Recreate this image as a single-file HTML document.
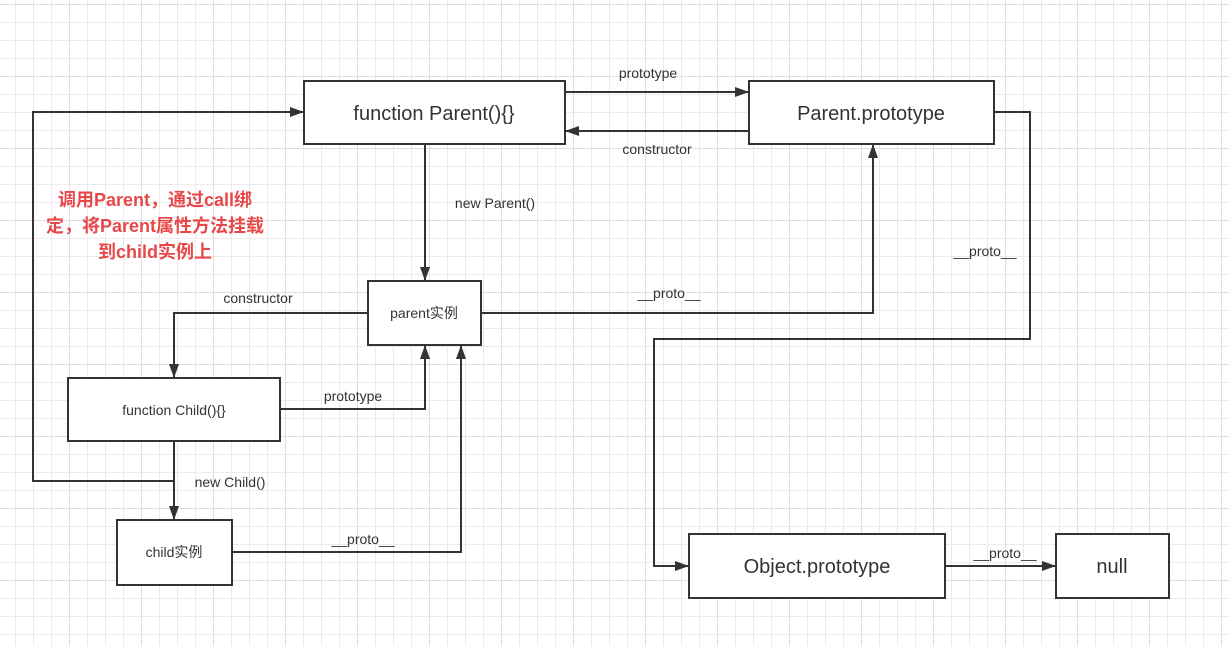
<!DOCTYPE html>
<html><head><meta charset="utf-8"><style>
html,body{margin:0;padding:0;background:#fff}
svg{display:block}
text{font-family:"Liberation Sans","Noto Sans CJK SC",sans-serif;fill:#333}
</style></head><body>
<svg width="1229" height="646" viewBox="0 0 1229 646" xmlns="http://www.w3.org/2000/svg">
<defs>
<pattern id="g" x="-3" y="4" width="18" height="18" patternUnits="userSpaceOnUse">
<path d="M0 0.5H18M0.5 0V18" stroke="#ebebeb" stroke-width="1" fill="none"/>
</pattern>
<pattern id="G" x="-3" y="4" width="72" height="72" patternUnits="userSpaceOnUse">
<path d="M0 0.5H72M0.5 0V72" stroke="#dedede" stroke-width="1" fill="none"/>
</pattern>
<marker id="a" markerWidth="14" markerHeight="10" refX="14" refY="5" orient="auto" markerUnits="userSpaceOnUse">
<path d="M0 0L14 5L0 10Z" fill="#333"/>
</marker>
</defs>
<rect width="1229" height="646" fill="url(#g)"/>
<rect width="1229" height="646" fill="url(#G)"/>
<g fill="#fff" stroke="#333" stroke-width="2">
<rect x="304" y="81" width="261" height="63"/>
<rect x="749" y="81" width="245" height="63"/>
<rect x="368" y="281" width="113" height="64"/>
<rect x="68" y="378" width="212" height="63"/>
<rect x="117" y="520" width="115" height="65"/>
<rect x="689" y="534" width="256" height="64"/>
<rect x="1056" y="534" width="113" height="64"/>
</g>
<g fill="none" stroke="#333" stroke-width="2" marker-end="url(#a)">
<path d="M565 92H749"/>
<path d="M749 131H565"/>
<path d="M425 144V281"/>
<path d="M481 313H873V144"/>
<path d="M994 112H1030V339H654V566H689"/>
<path d="M945 566H1056"/>
<path d="M368 313H174V378"/>
<path d="M280 409H425V345"/>
<path d="M174 441V520"/>
<path d="M174 481H33V112H304"/>
<path d="M232 552H461V345"/>
</g>
<g font-size="20" text-anchor="middle">
<text x="434" y="120">function Parent(){}</text>
<text x="871" y="120">Parent.prototype</text>
<text x="817" y="573">Object.prototype</text>
<text x="1112" y="573">null</text>
</g>
<g font-size="14" text-anchor="middle">
<text x="424" y="318">parent实例</text>
<text x="174" y="415">function Child(){}</text>
<text x="174" y="557">child实例</text>
<text x="648" y="78">prototype</text>
<text x="657" y="154">constructor</text>
<text x="495" y="208">new Parent()</text>
<text x="669" y="298">__proto__</text>
<text x="985" y="256">__proto__</text>
<text x="1005" y="558">__proto__</text>
<text x="258" y="303">constructor</text>
<text x="353" y="401">prototype</text>
<text x="230" y="487">new Child()</text>
<text x="363" y="544">__proto__</text>
</g>
<g font-size="18" text-anchor="middle" font-weight="bold">
<text x="155" y="206" style="fill:#e8474a">调用Parent，通过call绑</text>
<text x="155" y="232" style="fill:#e8474a">定，将Parent属性方法挂载</text>
<text x="155" y="258" style="fill:#e8474a">到child实例上</text>
</g>
</svg>
</body></html>
